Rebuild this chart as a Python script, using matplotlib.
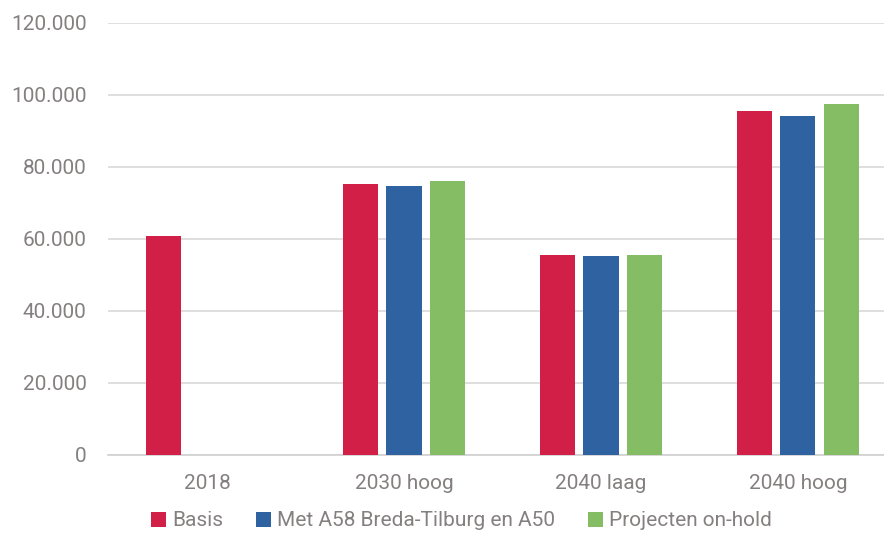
import matplotlib.pyplot as plt
import numpy as np
from matplotlib.ticker import FuncFormatter

categories = ["2018", "2030 hoog", "2040 laag", "2040 hoog"]
series_names = ["Basis", "Met A58 Breda-Tilburg en A50", "Projecten on-hold"]
basis = [60900, 75100, 55600, 95500]
met_a58 = [np.nan, 74800, 55200, 94200]
on_hold = [np.nan, 76000, 55600, 97400]
colors = ["#D21F48", "#2E62A1", "#84BD63"]

text_color = "#858080"
plt.rcParams["font.family"] = ["Roboto", "DejaVu Sans"]

fig = plt.figure(figsize=(8.84, 5.33), dpi=100)
ax = fig.add_axes([108 / 884, 1 - 455 / 533, 1 - 108 / 884, (455 - 22.7) / 533])

x = np.arange(len(categories))
width = 0.178
step = 0.221
for i, (name, vals) in enumerate(zip(series_names, [basis, met_a58, on_hold])):
    ax.bar(x + (i - 1) * step, vals, width, color=colors[i], label=name, zorder=3)

ax.set_ylim(0, 120000)
ax.set_xlim(-0.503, 3.437)
ax.set_yticks(np.arange(0, 120001, 20000))
ax.yaxis.set_major_formatter(FuncFormatter(lambda v, p: f"{v:,.0f}".replace(",", ".")))
ax.set_xticks(x)
ax.set_xticklabels(categories)
ax.grid(axis="y", color="#d9d9d9", linewidth=1.2, zorder=0)
ax.tick_params(length=0, labelsize=15, labelcolor=text_color)
ax.tick_params(axis="y", pad=15.5)
ax.tick_params(axis="x", pad=14)
for side in ["top", "right", "left"]:
    ax.spines[side].set_visible(False)
ax.spines["bottom"].set_color("#d0d0d0")
ax.spines["bottom"].set_linewidth(1.2)

leg = fig.legend(
    loc="center", bbox_to_anchor=(0.522, 1 - 521 / 533), ncol=3, frameon=False,
    fontsize=15, handlelength=0.7, handleheight=0.7, handletextpad=0.3,
    columnspacing=1.6,
)
for t in leg.get_texts():
    t.set_color(text_color)

fig.savefig("out.png", dpi=100)
